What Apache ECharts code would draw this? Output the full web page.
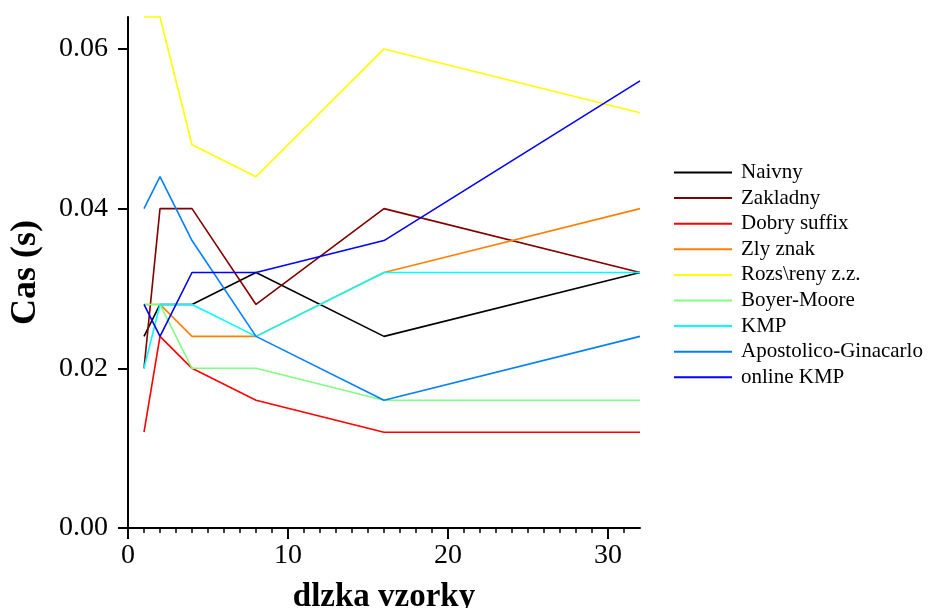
<!DOCTYPE html>
<html>
<head>
<meta charset="utf-8">
<script src="https://cdn.jsdelivr.net/npm/echarts@6/dist/echarts.min.js"></script>
<style>
  html, body { margin: 0; padding: 0; background: #fff; }
  #chart { width: 929px; height: 608px; }
</style>
</head>
<body>
<div id="chart"></div>
<script>
// pattern lengths measured
const patternLengths = [1, 2, 4, 8, 16, 32];

// run times in seconds, one list per algorithm
const naivny      = [0.024, 0.028, 0.028, 0.032, 0.024, 0.032];
const zakladny    = [0.020, 0.040, 0.040, 0.028, 0.040, 0.032];
const dobrySuffix = [0.012, 0.024, 0.020, 0.016, 0.012, 0.012];
const zlyZnak     = [0.028, 0.028, 0.024, 0.024, 0.032, 0.040];
const rozsireny   = [0.064, 0.064, 0.048, 0.044, 0.060, 0.052];
const boyerMoore  = [0.028, 0.028, 0.020, 0.020, 0.016, 0.016];
const kmp         = [0.020, 0.028, 0.028, 0.024, 0.032, 0.032];
const apostolico  = [0.040, 0.044, 0.036, 0.024, 0.016, 0.024];
const onlineKmp   = [0.028, 0.024, 0.032, 0.032, 0.036, 0.056];

// tick positions on both axes
const xTicks = [0, 10, 20, 30];
const yTicks = [0, 0.02, 0.04, 0.06];

const seriesNames = ['Naivny', 'Zakladny', 'Dobry suffix', 'Zly znak', 'Rozs\\reny z.z.',
                     'Boyer-Moore', 'KMP', 'Apostolico-Ginacarlo', 'online KMP'];
const seriesValues = [naivny, zakladny, dobrySuffix, zlyZnak, rozsireny,
                      boyerMoore, kmp, apostolico, onlineKmp];
const seriesColors = ['#000000', '#800000', '#ff0000', '#ff8000', '#ffff00',
                      '#80ff80', '#00ffff', '#0080ff', '#0000ff'];

const FONT = '"Liberation Serif", "DejaVu Serif", serif';

const chart = echarts.init(document.getElementById('chart'), null, { renderer: 'canvas' });

chart.setOption({
  animation: false,
  backgroundColor: '#ffffff',
  textStyle: { fontFamily: FONT },
  grid: { left: 128, right: 289, top: 17, bottom: 80,
          containLabel: false, outerBoundsMode: 'none' },
  legend: {
    orient: 'vertical',
    left: 669,
    top: 157,
    icon: 'rect',
    itemWidth: 58,
    itemHeight: 2,
    itemGap: 4.6,
    textStyle: { fontFamily: FONT, fontSize: 21, lineHeight: 21, color: '#000',
                 padding: [0, 0, 0, 4] },
    data: seriesNames.map(n => ({ name: n }))
  },
  xAxis: {
    type: 'value',
    min: 0,
    max: 32,
    interval: 10,
    name: 'dlzka vzorky',
    nameLocation: 'middle',
    nameGap: 53,
    nameTextStyle: { fontFamily: FONT, fontSize: 33, fontWeight: 'bold', color: '#000' },
    axisLine: { show: true, onZero: false, lineStyle: { color: '#000', width: 2 } },
    axisTick: { show: true, inside: false, length: 11, customValues: xTicks,
                lineStyle: { color: '#000', width: 2 } },
    minorTick: { show: true, splitNumber: 10, length: 5, lineStyle: { color: '#000', width: 1.5 } },
    axisLabel: { fontFamily: FONT, fontSize: 28, color: '#000', margin: 14,
                 customValues: xTicks },
    splitLine: { show: false }
  },
  yAxis: {
    type: 'value',
    min: 0,
    max: 0.064,
    interval: 0.02,
    name: 'Cas (s)',
    nameLocation: 'middle',
    nameGap: 84,
    nameTextStyle: { fontFamily: FONT, fontSize: 36, fontWeight: 'bold', color: '#000' },
    axisLine: { show: true, onZero: false, lineStyle: { color: '#000', width: 2 } },
    axisTick: { show: true, inside: false, length: 10, customValues: yTicks,
                lineStyle: { color: '#000', width: 2 } },
    axisLabel: { fontFamily: FONT, fontSize: 28, color: '#000', margin: 20,
                 customValues: yTicks,
                 formatter: v => v.toFixed(2) },
    splitLine: { show: false }
  },
  series: seriesNames.map((name, i) => ({
    name: name,
    type: 'line',
    data: patternLengths.map((x, j) => [x, seriesValues[i][j]]),
    symbol: 'none',
    color: seriesColors[i],
    lineStyle: { color: seriesColors[i], width: 1.6 },
    itemStyle: { color: seriesColors[i] },
    clip: false
  }))
});
</script>
</body>
</html>
